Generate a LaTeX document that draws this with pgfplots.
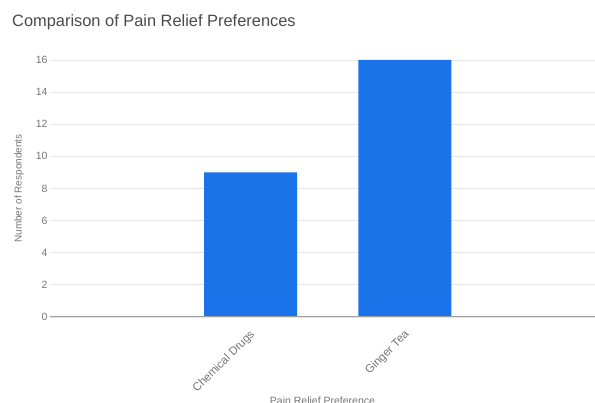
\documentclass[border=0pt]{standalone}
\usepackage{pgfplots}
\pgfplotsset{compat=1.18}
\usepackage{fontspec}
\setmainfont{Liberation Sans}
\definecolor{barblue}{HTML}{1A73E8}
\definecolor{gridgray}{HTML}{E6E6E6}
\definecolor{zerogray}{HTML}{9E9E9E}
\definecolor{labelgray}{HTML}{757575}
\definecolor{titlegray}{HTML}{4A4A4A}
\begin{document}
\begin{tikzpicture}
\begin{axis}[
  at={(0,0)}, anchor=south west,
  scale only axis, width=545pt, height=257pt,
  xmin=-1.298, xmax=2.23, ymin=0, ymax=16,
  ytick={0,2,...,16}, xtick={0,1},
  xticklabels={Chemical Drugs, Ginger Tea},
  axis line style={draw=none},
  tick style={draw=none},
  ymajorgrids, grid style={draw=gridgray, line width=0.8pt},
  /pgf/number format/assume math mode=true,
  yticklabel style={font=\fontsize{10.5}{12}\selectfont, text=labelgray, xshift=1pt},
  xticklabel style={font=\fontsize{11.5}{13}\selectfont, text=labelgray, rotate=45, anchor=north east, xshift=-6pt, yshift=-4pt},
  ylabel={Number of Respondents},
  ylabel style={at={(rel axis cs:0,0.5)}, anchor=center, yshift=31pt, font=\fontsize{10}{12}\selectfont, text=labelgray},
  xlabel={Pain Relief Preference},
  xlabel style={at={(rel axis cs:0.5,0)}, anchor=center, yshift=-84pt, font=\fontsize{10.5}{12}\selectfont, text=labelgray},
  clip=false,
]
\addplot[ybar, bar width=93pt, fill=barblue, draw=none] coordinates {(0,9) (1,16)};
\draw[zerogray, line width=1pt] (axis cs:-1.298,0) -- (axis cs:2.23,0);
\end{axis}
\node[anchor=base west, inner sep=0pt, font=\fontsize{16.4}{19}\selectfont, text=titlegray] at (-38pt,290pt) {Comparison of Pain Relief Preferences};
\pgfresetboundingbox
\path[use as bounding box] (-50pt,-86pt) rectangle (545pt,317pt);
\end{tikzpicture}
\end{document}
